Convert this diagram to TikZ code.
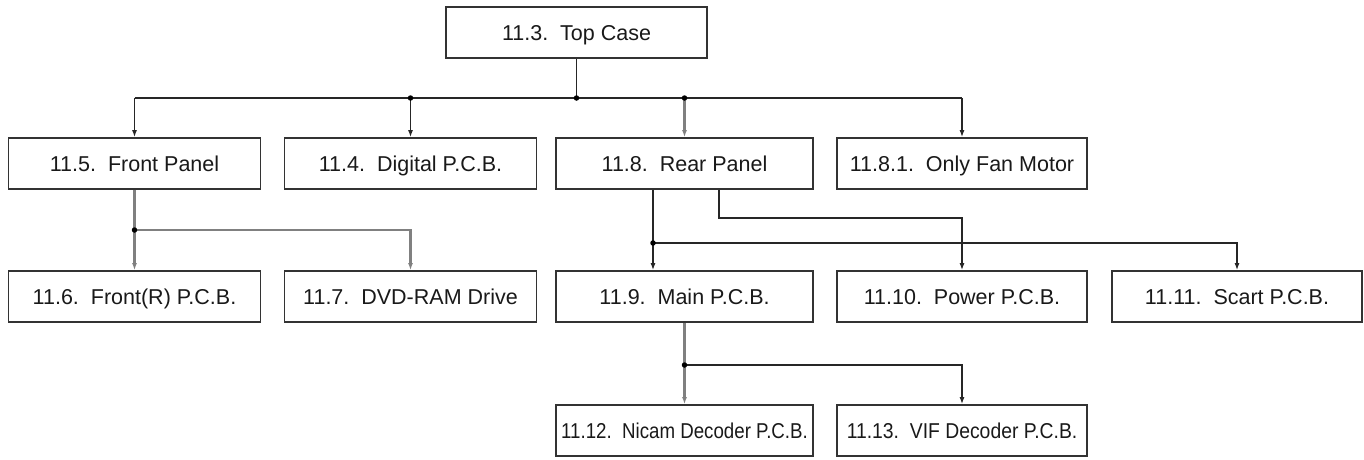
\documentclass[tikz,border=0pt]{standalone}
\usepackage{fontspec}
\setmainfont{Liberation Sans}
\usetikzlibrary{arrows.meta,calc}
\begin{document}
\begin{tikzpicture}[x=1pt,y=-1pt,
  box/.style={draw=black!80,line width=1.8pt,minimum width=252pt,minimum height=51pt,inner sep=0pt,
    text height=17pt,text depth=1.5pt,
    font=\fontsize{21.5}{24}\selectfont,text=black!90},
  link/.style={draw=black!85,line width=1.2pt,-{Latex[length=7pt,width=5pt]}},
  plain/.style={draw=black!85,line width=1.2pt},
  glink/.style={draw=black!50,line width=2.2pt,-{Latex[length=7pt,width=5pt]}},
  gplain/.style={draw=black!50,line width=2.2pt},
  jdot/.style={circle,fill=black,inner sep=0pt,minimum size=5.5pt}]
\useasboundingbox (0,0) rectangle (1364,459);
% nodes
\node[box,minimum width=261pt] (top) at (576.5,32.5) {11.3.\ \ Top Case};
\node[box] (front) at (134.5,163.5) {11.5.\ \ Front Panel};
\node[box] (digital) at (410.5,163.5) {11.4.\ \ Digital P.C.B.};
\node[box,minimum width=257pt] (rear) at (684.5,163.5) {11.8.\ \ Rear Panel};
\node[box,minimum width=250pt] (fan) at (962,163.5) {11.8.1.\ \ Only Fan Motor};
\node[box] (frontr) at (134.5,296.5) {11.6.\ \ Front(R) P.C.B.};
\node[box] (dvd) at (410.5,296.5) {11.7.\ \ DVD-RAM Drive};
\node[box,minimum width=257pt] (main) at (684.5,296.5) {11.9.\ \ Main P.C.B.};
\node[box,minimum width=250pt] (power) at (962,296.5) {11.10.\ \ Power P.C.B.};
\node[box,minimum width=250pt] (scart) at (1237,296.5) {11.11.\ \ Scart P.C.B.};
\node[box,minimum width=257pt] (nicam) at (684.5,430.5) {\scalebox{0.87}[1]{11.12.\ \ Nicam Decoder P.C.B.}};
\node[box,minimum width=250pt] (vif) at (962,430.5) {\scalebox{0.9}[1]{11.13.\ \ VIF Decoder P.C.B.}};
% junction coordinates
\coordinate (jt) at (top.south |- 0,98);
\coordinate (jd) at (digital.north |- jt);
\coordinate (jr) at (rear.north |- jt);
\coordinate (jf) at (front.north |- jt);
\coordinate (jfan) at (fan.north |- jt);
\coordinate (jfr) at (front.south |- 0,230);
\coordinate (jdvd) at (dvd.north |- jfr);
\coordinate (r1) at ($(rear.south)+(-31.5,0)$);
\coordinate (r2) at ($(rear.south)+(34.5,0)$);
\coordinate (jm) at (r1 |- 0,243);
\coordinate (jsc) at (scart.north |- jm);
\coordinate (r2t) at (r2 |- 0,218);
\coordinate (jpw) at (power.north |- r2t);
\coordinate (jn) at (main.south |- 0,365);
\coordinate (jv) at (vif.north |- jn);
% top tree
\draw[plain] (top.south) -- (jt);
\draw[plain] (jf) -- (jfan);
\draw[link] (jf) -- (front.north);
\draw[link] (jd) -- (digital.north);
\draw[glink] (jr) -- (rear.north);
\draw[link] (jfan) -- (fan.north);
% front tree
\draw[gplain] (front.south) -- (jfr);
\draw[glink] (jfr) -- (frontr.north);
\draw[glink] (jfr) -- (jdvd) -- (dvd.north);
% rear tree
\draw[plain] (r1) -- (jm);
\draw[link] (jm) -- (r1 |- main.north);
\draw[link] (jm) -- (jsc) -- (scart.north);
\draw[link] (r2) -- (r2t) -- (jpw) -- (power.north);
% main tree
\draw[gplain] (main.south) -- (jn);
\draw[glink] (jn) -- (nicam.north);
\draw[link] (jn) -- (jv) -- (vif.north);
% dots
\node[jdot] at (jt) {};
\node[jdot] at (jd) {};
\node[jdot] at (jr) {};
\node[jdot] at (jfr) {};
\node[jdot] at (jm) {};
\node[jdot] at (jn) {};
\end{tikzpicture}
\end{document}
